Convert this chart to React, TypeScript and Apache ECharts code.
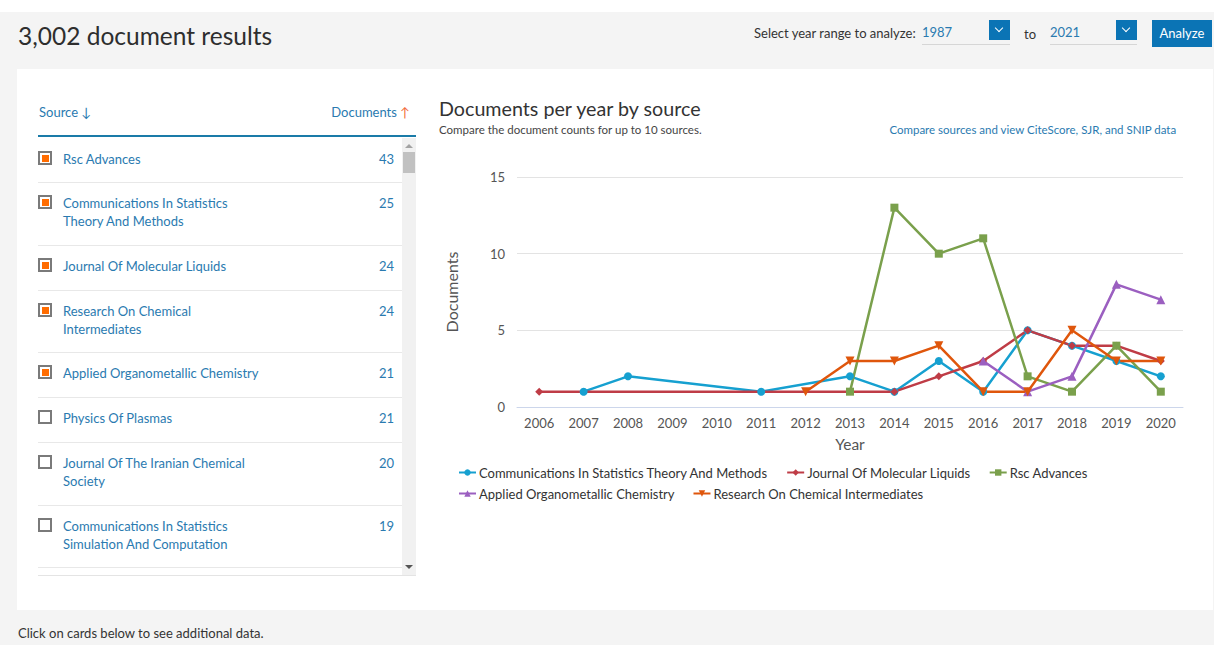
import React, { useEffect, useRef } from "react";
import * as echarts from "echarts";

const years = ["2006", "2007", "2008", "2009", "2010", "2011", "2012", "2013", "2014", "2015", "2016", "2017", "2018", "2019", "2020"];
const yTicks = [0, 5, 10, 15];

const commStats = [null, 1, 2, null, null, 1, null, 2, 1, 3, 1, 5, 4, 3, 2];
const molLiquids = [1, null, null, null, null, null, null, null, 1, 2, 3, 5, 4, 4, 3];
const rscAdvances = [null, null, null, null, null, null, null, 1, 13, 10, 11, 2, 1, 4, 1];
const appliedOrgano = [null, null, null, null, null, null, null, null, null, null, 3, 1, 2, 8, 7];
const researchChem = [null, null, null, null, null, null, 1, 3, 3, 4, 1, 1, 5, 3, 3];

const seriesNames = [
  "Communications In Statistics Theory And Methods",
  "Journal Of Molecular Liquids",
  "Rsc Advances",
  "Applied Organometallic Chemistry",
  "Research On Chemical Intermediates",
];

const sourceNames = [
  ["Rsc Advances"],
  ["Communications In Statistics", "Theory And Methods"],
  ["Journal Of Molecular Liquids"],
  ["Research On Chemical", "Intermediates"],
  ["Applied Organometallic Chemistry"],
  ["Physics Of Plasmas"],
  ["Journal Of The Iranian Chemical", "Society"],
  ["Communications In Statistics", "Simulation And Computation"],
];
const sourceCounts = [43, 25, 24, 24, 21, 21, 20, 19];
const sourceChecked = [true, true, true, true, true, false, false, false];

const FONT = "Lato, 'Open Sans', sans-serif";
const LINK = "#2a7ab0";

const rowTops = [138, 182, 245, 290, 352, 397, 442, 505];
const rowBottoms = [182, 245, 290, 352, 397, 442, 505, 567];

function Chevron({ x }: { x: number }) {
  return (
    <div style={{ position: "absolute", left: x, top: 20, width: 21, height: 20, background: "#0b74b5" }}>
      <div style={{ position: "absolute", left: 7, top: 5, width: 5, height: 5, borderRight: "1.5px solid #fff", borderBottom: "1.5px solid #fff", transform: "rotate(45deg)" }} />
    </div>
  );
}

export default function App() {
  const ref = useRef<HTMLDivElement>(null);

  useEffect(() => {
    document.body.style.margin = "0";
    const chart = echarts.init(ref.current!, undefined, { renderer: "svg" });
    const mk = (name: string, data: (number | null)[], color: string, symbol: string, size: number, rotate = 0) => ({
      name,
      type: "line",
      data,
      connectNulls: true,
      symbol,
      symbolSize: size,
      symbolRotate: rotate,
      showAllSymbol: true,
      lineStyle: { color, width: 2.5 },
      itemStyle: { color },
      emphasis: { disabled: true },
    });
    const legendBase = {
      itemWidth: 17,
      itemHeight: 8,
      itemGap: 18,
      orient: "horizontal",
      textStyle: { fontSize: 13, color: "#333", fontFamily: FONT, padding: [0, 0, 0, -2] },
    };
    chart.setOption({
      animation: false,
      textStyle: { fontFamily: FONT },
      graphic: [
        { type: "text", left: 439, top: 98, style: { text: "Documents per year by source", fontSize: 19.7, fill: "#333", fontFamily: FONT } },
        { type: "text", left: 439, top: 123, style: { text: "Compare the document counts for up to 10 sources.", fontSize: 11.5, fill: "#444", fontFamily: FONT } },
        { type: "text", right: 37, top: 123, style: { text: "Compare sources and view CiteScore, SJR, and SNIP data", fontSize: 11.5, fill: LINK, fontFamily: FONT } },
      ],
      legend: [
        { ...legendBase, left: 453, top: 461, data: seriesNames.slice(0, 3) },
        { ...legendBase, left: 453, top: 482, data: seriesNames.slice(3) },
      ],
      grid: { left: 517, right: 31, top: 177, bottom: 238, containLabel: false },
      xAxis: {
        type: "category",
        data: years,
        boundaryGap: true,
        name: "Year",
        nameLocation: "middle",
        nameGap: 29,
        nameTextStyle: { fontSize: 15.5, color: "#555", fontFamily: FONT },
        axisLine: { lineStyle: { color: "#ccd6eb" } },
        axisTick: { show: false },
        axisLabel: { fontSize: 13, color: "#555", margin: 9, fontFamily: FONT },
      },
      yAxis: {
        type: "value",
        min: yTicks[0],
        max: yTicks[yTicks.length - 1],
        interval: 5,
        name: "Documents",
        nameLocation: "middle",
        nameGap: 58,
        nameTextStyle: { fontSize: 16, color: "#555", fontFamily: FONT },
        axisLine: { show: false },
        axisTick: { show: false },
        axisLabel: { fontSize: 13, color: "#555", margin: 12, fontFamily: FONT },
        splitLine: { lineStyle: { color: "#e3e3e3" } },
      },
      series: [
        mk(seriesNames[0], commStats, "#16a0d0", "circle", 8),
        mk(seriesNames[1], molLiquids, "#bf3c46", "diamond", 8),
        mk(seriesNames[2], rscAdvances, "#7aa04c", "rect", 8),
        mk(seriesNames[3], appliedOrgano, "#9b5fc0", "triangle", 9),
        mk(seriesNames[4], researchChem, "#df560c", "triangle", 9, 180),
      ],
    });
    return () => chart.dispose();
  }, []);

  return (
    <div style={{ position: "relative", width: 1214, height: 645, background: "#fff", fontFamily: FONT, overflow: "hidden" }}>
      <div style={{ position: "absolute", left: 0, top: 12, width: 1214, height: 633, background: "#f4f4f4" }} />
      <div style={{ position: "absolute", left: 18, top: 21, fontSize: 24.5, color: "#2e2e2e", whiteSpace: "nowrap" }}>3,002 document results</div>
      <div style={{ position: "absolute", left: 754, top: 25, fontSize: 13, color: "#333", whiteSpace: "nowrap" }}>Select year range to analyze:</div>
      <div style={{ position: "absolute", left: 922, top: 24, width: 88, height: 20, borderBottom: "1px solid #d6d6d6", fontSize: 13, color: LINK }}>1987</div>
      <Chevron x={989} />
      <div style={{ position: "absolute", left: 1024, top: 26, fontSize: 13, color: "#333" }}>to</div>
      <div style={{ position: "absolute", left: 1050, top: 24, width: 87, height: 20, borderBottom: "1px solid #d6d6d6", fontSize: 13, color: LINK }}>2021</div>
      <Chevron x={1116} />
      <div style={{ position: "absolute", left: 1152, top: 20, width: 60, height: 27, background: "#0b74b5", color: "#fff", fontSize: 13, lineHeight: "27px", textAlign: "center" }}>Analyze</div>

      <div style={{ position: "absolute", left: 17, top: 69, width: 1196, height: 541, background: "#fff" }} />

      <div style={{ position: "absolute", left: 39, top: 104, fontSize: 13, color: LINK }}>Source ↓</div>
      <div style={{ position: "absolute", right: 1214 - 410, top: 104, fontSize: 13, color: LINK, whiteSpace: "nowrap" }}>
        Documents <span style={{ color: "#f26c3a" }}>↑</span>
      </div>
      <div style={{ position: "absolute", left: 38, top: 135, width: 378, height: 2, background: "#1a7ba8" }} />
      <div style={{ position: "absolute", left: 402, top: 138, width: 14, height: 437, background: "#f1f1f1" }} />
      <div style={{ position: "absolute", left: 403, top: 152, width: 12, height: 21, background: "#c1c1c1" }} />
      <div style={{ position: "absolute", left: 405, top: 144, width: 0, height: 0, borderLeft: "4px solid transparent", borderRight: "4px solid transparent", borderBottom: "4px solid #a3a3a3" }} />
      <div style={{ position: "absolute", left: 405, top: 565, width: 0, height: 0, borderLeft: "4px solid transparent", borderRight: "4px solid transparent", borderTop: "4px solid #555" }} />
      <div style={{ position: "absolute", left: 38, top: 575, width: 378, height: 1, background: "#e4e4e4" }} />

      {sourceNames.map((lines, i) => (
        <React.Fragment key={i}>
          <div style={{ position: "absolute", left: 38, top: rowTops[i] + 13, width: 10, height: 10, border: "2px solid #7a7a7a", background: "#fff" }}>
            {sourceChecked[i] && <div style={{ position: "absolute", left: 1.5, top: 1.5, width: 7, height: 7, background: "#ff6c00" }} />}
          </div>
          <div style={{ position: "absolute", left: 63, top: rowTops[i] + 12, fontSize: 13, lineHeight: "18px", color: LINK, whiteSpace: "nowrap" }}>
            {lines.map((l, j) => (
              <div key={j}>{l}</div>
            ))}
          </div>
          <div style={{ position: "absolute", right: 1214 - 394, top: rowTops[i] + 12, fontSize: 13, lineHeight: "18px", color: LINK }}>{sourceCounts[i]}</div>
          <div style={{ position: "absolute", left: 38, top: rowBottoms[i], width: 364, height: 1, background: "#e8e8e8" }} />
        </React.Fragment>
      ))}

      <div style={{ position: "absolute", left: 18, top: 625, fontSize: 13, color: "#333" }}>Click on cards below to see additional data.</div>

      <div ref={ref} style={{ position: "absolute", left: 0, top: 0, width: 1214, height: 645 }} />
    </div>
  );
}
